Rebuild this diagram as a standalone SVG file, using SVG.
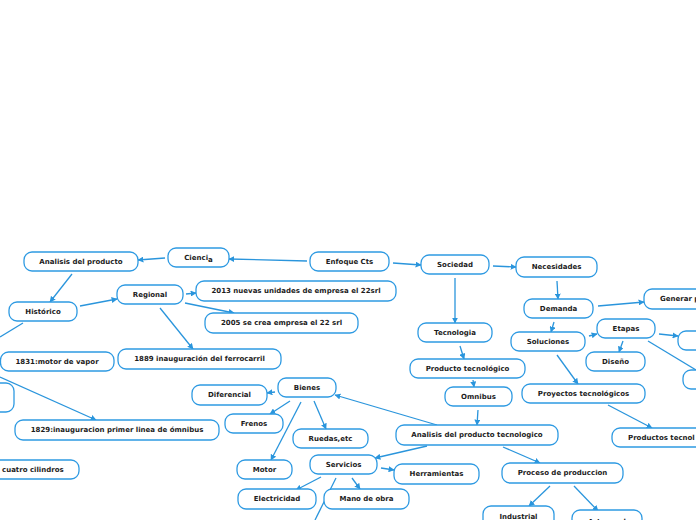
<svg xmlns="http://www.w3.org/2000/svg" width="696" height="520" viewBox="0 0 696 520">
<style>
.n rect{fill:#fff;stroke:#2e9ae2;stroke-width:1.3}
.n text{font-family:"DejaVu Sans",Verdana,sans-serif;font-weight:bold;font-size:7px;fill:#1c1c1c;text-anchor:middle;dominant-baseline:central}
.n text.s{text-anchor:start}
#edges path{fill:none;stroke:#2a95dc;stroke-width:1.3}
#edges path.a{marker-end:url(#ah)}
</style>
<defs>
<marker id="ah" viewBox="0 0 10 10" refX="9" refY="5" markerWidth="6" markerHeight="6" markerUnits="userSpaceOnUse" orient="auto">
<path d="M0,0 L10,5 L0,10 z" fill="#2a95dc"/>
</marker>
</defs>
<rect width="696" height="520" fill="#fff"/>
<g id="edges">
<path class="a" d="M307,261 L229,259"/>
<path class="a" d="M393,263 L421,265"/>
<path class="a" d="M165,258 L138,260"/>
<path class="a" d="M72,274 L50,302"/>
<path class="a" d="M80,306 L117,299"/>
<path d="M23,323 L0,337"/>
<path class="a" d="M186,294 L196,293"/>
<path class="a" d="M185,303 L234,313"/>
<path class="a" d="M160,308 L193,349"/>
<path class="a" d="M0,377 L96,420"/>
<path class="a" d="M493,266 L516,267"/>
<path class="a" d="M455,278 L455,323"/>
<path class="a" d="M557,281 L558,299"/>
<path class="a" d="M598,306 L644,302"/>
<path class="a" d="M554,322 L551,332"/>
<path class="a" d="M589,336 L597,334"/>
<path class="a" d="M557,355 L578,384"/>
<path class="a" d="M659,334 L678,336"/>
<path class="a" d="M623,341 L619,352"/>
<path d="M648,341 L696,370"/>
<path class="a" d="M460,346 L464,359"/>
<path class="a" d="M473,380 L474,387"/>
<path class="a" d="M478,410 L477,425"/>
<path class="a" d="M608,405 L652,428"/>
<path class="a" d="M437,425 L335,395"/>
<path class="a" d="M427,446 L375,458"/>
<path class="a" d="M503,447 L540,463"/>
<path class="a" d="M275,392 L267,393"/>
<path class="a" d="M290,401 L270,414"/>
<path class="a" d="M301,402 L271,460"/>
<path class="a" d="M314,401 L326,429"/>
<path class="a" d="M381,468 L394,470"/>
<path class="a" d="M321,477 L296,490"/>
<path class="a" d="M352,478 L360,489"/>
<path d="M336,478 L315,520"/>
<path class="a" d="M550,486 L529,506"/>
<path class="a" d="M574,486 L598,511"/>
</g>
<g id="enfoque" class="n"><rect x="310" y="252" width="79" height="19" rx="8"/><text x="349.5" y="262">Enfoque Cts</text></g>
<g id="ciencia" class="n"><rect x="168" y="248" width="61" height="19" rx="8"/><text x="198.5" y="258">Cienci<tspan dy="1.5">a</tspan></text></g>
<g id="analisis" class="n"><rect x="24" y="252" width="114" height="19" rx="8"/><text x="81" y="262">Analisis del producto</text></g>
<g id="historico" class="n"><rect x="9" y="302" width="68" height="19" rx="8"/><text x="43" y="312">Histórico</text></g>
<g id="regional" class="n"><rect x="117" y="285" width="66" height="19" rx="8"/><text x="150" y="295">Regional</text></g>
<g id="n2013" class="n"><rect x="196" y="281" width="200" height="20" rx="8"/><text x="296" y="291">2013 nuevas unidades de empresa el 22srl</text></g>
<g id="n2005" class="n"><rect x="205" y="313" width="153" height="20" rx="8"/><text x="281.5" y="323">2005 se crea empresa el 22 srl</text></g>
<g id="n1889" class="n"><rect x="118" y="349" width="163" height="20" rx="8"/><text x="199.5" y="359">1889 inauguración del ferrocarril</text></g>
<g id="n1831" class="n"><rect x="0.5" y="352" width="113.5" height="19" rx="8"/><text x="57" y="362">1831:motor de vapor</text></g>
<g id="leftpart" class="n"><rect x="-40" y="383" width="54" height="29" rx="8"/></g>
<g id="n1829" class="n"><rect x="15" y="420" width="204" height="20" rx="8"/><text x="117" y="430">1829:inauguracion primer linea de ómnibus</text></g>
<g id="cuatro" class="n"><rect x="-40" y="460" width="119" height="19" rx="8"/><text class="s" x="2" y="470">cuatro cilindros</text></g>
<g id="sociedad" class="n"><rect x="421" y="255" width="68" height="19" rx="8"/><text x="455" y="265">Sociedad</text></g>
<g id="necesidades" class="n"><rect x="516" y="257" width="81" height="20" rx="8"/><text x="556.5" y="267">Necesidades</text></g>
<g id="demanda" class="n"><rect x="524" y="299" width="69" height="19" rx="8"/><text x="558.5" y="309">Demanda</text></g>
<g id="generar" class="n"><rect x="644" y="289" width="80" height="20" rx="8"/><text class="s" x="660" y="299">Generar p</text></g>
<g id="etapas" class="n"><rect x="597" y="319" width="58" height="19" rx="8"/><text x="626" y="329">Etapas</text></g>
<g id="soluciones" class="n"><rect x="511" y="332" width="74" height="19" rx="8"/><text x="548" y="342">Soluciones</text></g>
<g id="right1" class="n"><rect x="678" y="331" width="40" height="19" rx="8"/></g>
<g id="diseno" class="n"><rect x="586" y="352" width="59" height="19" rx="8"/><text x="615.5" y="362">Diseño</text></g>
<g id="right2" class="n"><rect x="683" y="370" width="40" height="19" rx="8"/></g>
<g id="tecnologia" class="n"><rect x="418" y="323" width="74" height="19" rx="8"/><text x="455" y="333">Tecnologia</text></g>
<g id="prodtec" class="n"><rect x="410" y="359" width="115" height="19" rx="8"/><text x="467.5" y="369">Producto tecnológico</text></g>
<g id="omnibus" class="n"><rect x="445" y="387" width="67" height="19" rx="8"/><text x="478.5" y="397">Omnibus</text></g>
<g id="proyectos" class="n"><rect x="522" y="384" width="123" height="19" rx="8"/><text x="583.5" y="394">Proyectos tecnológicos</text></g>
<g id="productos" class="n"><rect x="612" y="428" width="100" height="19" rx="8"/><text class="s" x="628" y="438">Productos tecnol</text></g>
<g id="analisispt" class="n"><rect x="396" y="425" width="162" height="20" rx="8"/><text x="477" y="435">Analisis del producto tecnologico</text></g>
<g id="bienes" class="n"><rect x="278" y="378" width="58" height="19" rx="8"/><text x="307" y="388">Bienes</text></g>
<g id="diferencial" class="n"><rect x="192" y="385" width="75" height="20" rx="8"/><text x="229.5" y="395">Diferencial</text></g>
<g id="frenos" class="n"><rect x="225" y="414" width="58" height="19" rx="8"/><text x="254" y="424">Frenos</text></g>
<g id="ruedas" class="n"><rect x="293" y="429" width="75" height="19" rx="8"/><text x="330.5" y="439">Ruedas,etc</text></g>
<g id="motor" class="n"><rect x="237" y="460" width="55" height="19" rx="8"/><text x="264.5" y="470">Motor</text></g>
<g id="servicios" class="n"><rect x="310" y="455" width="67" height="19" rx="8"/><text x="343.5" y="465">Servicios</text></g>
<g id="herramientas" class="n"><rect x="394" y="464" width="85" height="20" rx="8"/><text x="436.5" y="474">Herramientas</text></g>
<g id="electricidad" class="n"><rect x="238" y="489" width="78" height="20" rx="8"/><text x="277" y="499">Electricidad</text></g>
<g id="manodeobra" class="n"><rect x="324" y="489" width="85" height="20" rx="8"/><text x="366.5" y="499">Mano de obra</text></g>
<g id="proceso" class="n"><rect x="502" y="463" width="121" height="20" rx="8"/><text x="562.5" y="473">Proceso de produccion</text></g>
<g id="industrial" class="n"><rect x="483" y="506" width="71" height="26" rx="8"/><text x="518.5" y="517">Industrial</text></g>
<g id="artesanal" class="n"><rect x="572" y="510" width="70" height="20" rx="8"/><text x="607" y="522">Artesanal</text></g>
</svg>
